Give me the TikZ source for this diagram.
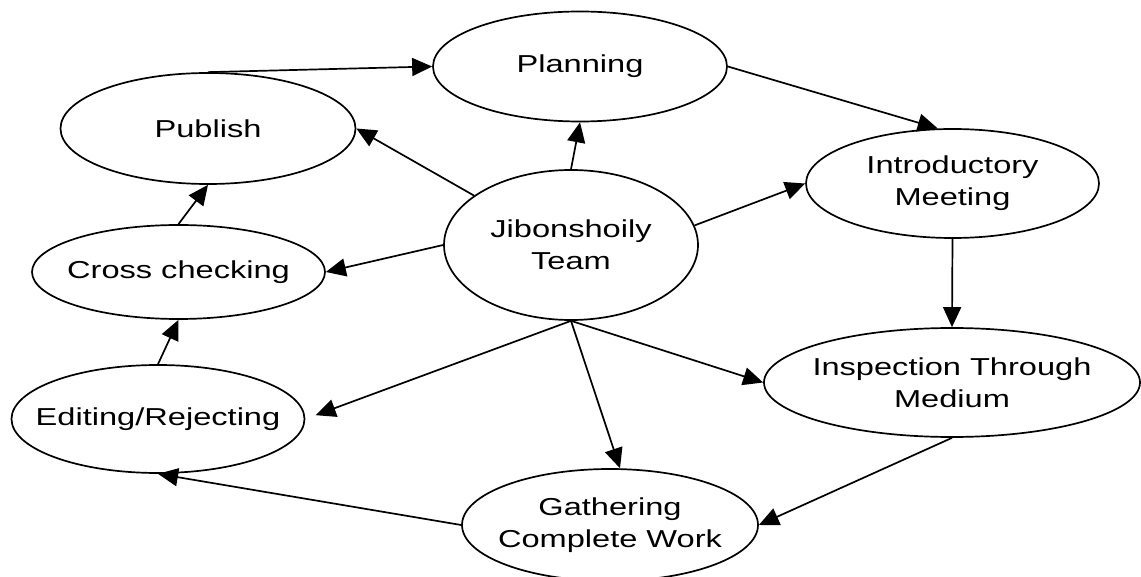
\documentclass[tikz,border=0pt]{standalone}
\usepackage{fontspec}
\setmainfont{Liberation Sans}[FakeStretch=1.33]
\usetikzlibrary{shapes.geometric,arrows.meta}
\begin{document}
\begin{tikzpicture}[x=1pt,y=-1pt,
  st/.style={ellipse,draw,line width=1.7pt,inner sep=-45pt,minimum width=294pt,minimum height=110pt,align=center,font=\fontsize{24.5}{31.7}\selectfont},
  ar/.style={line width=1.7pt,-{Triangle[length=20pt,width=18pt]}}]
\useasboundingbox (0,0) rectangle (1141,577);
\node[st] (plan) at (580,66.5) {Planning};
\node[st,minimum width=295pt,minimum height=111pt] (pub) at (208,128.5) {Publish};
\node[st,minimum width=254pt,minimum height=150pt] (jib) at (571,245) {Jibonshoily\\Team};
\node[st,minimum width=293pt,minimum height=109pt] (intro) at (952.5,183.5) {Introductory\\Meeting};
\node[st,minimum width=293pt,minimum height=94pt] (cross) at (178.5,272) {Cross checking};
\node[st,minimum width=293pt,minimum height=108pt] (edit) at (158,419) {Editing/Rejecting};
\node[st,minimum width=376pt,minimum height=109pt] (insp) at (952,382.5) {Inspection Through\\Medium};
\node[st,minimum width=296pt,minimum height=112pt] (gath) at (610,525) {Gathering\\Complete Work};

\draw[ar] (pub.north) -- (plan.west);
\draw[ar] (jib.north) -- (plan.south);
\draw[ar] (jib.153) -- (pub.east);
\draw[ar] (jib.west) -- (cross.east);
\draw[ar] (cross.north) -- (pub.south);
\draw[ar] (edit.north) -- (cross.south);
\draw[ar,shorten >=11pt] (jib.south) -- (edit.east);
\draw[ar] (plan.east) -- (intro.105);
\draw[ar] (jib.9) -- (intro.west);
\draw[ar] (intro.south) -- (insp.north);
\draw[ar] (jib.south) -- (insp.west);
\draw[ar] (jib.south) -- (gath.80);
\draw[ar] (insp.south) -- (gath.east);
\draw[ar] (gath.west) -- (edit.south);
\end{tikzpicture}
\end{document}
